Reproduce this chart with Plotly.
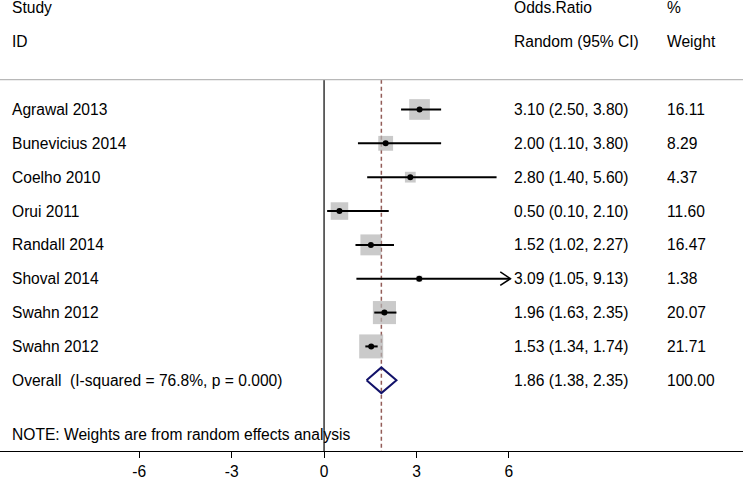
import math
import plotly.graph_objects as go

# Study data
studies = ["Agrawal 2013", "Bunevicius 2014", "Coelho 2010", "Orui 2011",
           "Randall 2014", "Shoval 2014", "Swahn 2012", "Swahn 2012"]
odds = [3.10, 2.00, 2.80, 0.50, 1.52, 3.09, 1.96, 1.53]
lower = [2.50, 1.10, 1.40, 0.10, 1.02, 1.05, 1.63, 1.34]
upper = [3.80, 3.80, 5.60, 2.10, 2.27, 9.13, 2.35, 1.74]
weights = [16.11, 8.29, 4.37, 11.60, 16.47, 1.38, 20.07, 21.71]

overall_label = "Overall  (I-squared = 76.8%, p = 0.000)"
overall_est, overall_lo, overall_hi, overall_w = 1.86, 1.38, 2.35, 100.00
note = "NOTE: Weights are from random effects analysis"

x_ticks = [-6, -3, 0, 3, 6]
x_tick_labels = ["-6", "-3", "0", "3", "6"]
clip = 6.05  # CI lines are truncated here and drawn with an arrow

FONT = "Liberation Sans, Arial, sans-serif"
FS = 15.6

rows = list(range(len(studies)))
overall_row = len(studies)
note_row = 9.6
top_line = -0.88
y_bottom = 10.09

fig = go.Figure()

# vertical no-effect line and dashed overall line
fig.add_trace(go.Scatter(x=[0, 0], y=[top_line, y_bottom], mode="lines",
                         line=dict(color="black", width=1.2), hoverinfo="skip"))
fig.add_trace(go.Scatter(x=[overall_est, overall_est], y=[top_line, y_bottom], mode="lines",
                         line=dict(color="#935c58", width=1.5, dash="4px,3px"), hoverinfo="skip"))

# weight boxes
fig.add_trace(go.Scatter(x=odds, y=rows, mode="markers",
                         marker=dict(symbol="square", color="#b4b4b4",
                                     size=[5.15 * math.sqrt(w) for w in weights],
                                     line=dict(width=0)),
                         hoverinfo="skip"))

# CI lines
cx, cy = [], []
for i, (lo, hi) in enumerate(zip(lower, upper)):
    cx += [lo, min(hi, clip), None]
    cy += [i, i, None]
fig.add_trace(go.Scatter(x=cx, y=cy, mode="lines", line=dict(color="black", width=2),
                         hoverinfo="skip"))

# arrow heads for truncated CIs
ax, ay = [], []
for i, hi in enumerate(upper):
    if hi > clip:
        ax += [clip - 0.33, clip, clip - 0.33, None]
        ay += [i - 0.2, i, i + 0.2, None]
fig.add_trace(go.Scatter(x=ax, y=ay, mode="lines", line=dict(color="black", width=1.5),
                         hoverinfo="skip"))

# point estimates
fig.add_trace(go.Scatter(x=odds, y=rows, mode="markers",
                         marker=dict(symbol="circle", color="black", size=6),
                         hoverinfo="skip"))

# overall diamond
fig.add_trace(go.Scatter(x=[overall_lo, overall_est, overall_hi, overall_est, overall_lo],
                         y=[overall_row, overall_row - 0.38, overall_row, overall_row + 0.38, overall_row],
                         mode="lines", line=dict(color="#12126a", width=2), hoverinfo="skip"))

# table text
def txt(x, y, s):
    fig.add_annotation(x=x, y=y, xref="paper", yref="y", text=s, showarrow=False,
                       xanchor="left", yanchor="middle", font=dict(family=FONT, size=FS, color="black"))

x_study, x_or, x_w = 10 / 743, 512 / 743, 665 / 743
txt(x_study, -3.0, "Study")
txt(x_study, -2.0, "ID")
txt(x_or, -3.0, "Odds.Ratio")
txt(x_or, -2.0, "Random (95% CI)")
txt(x_w, -3.0, "%")
txt(x_w, -2.0, "Weight")

for i, s in enumerate(studies):
    txt(x_study, i, s)
    txt(x_or, i, f"{odds[i]:.2f} ({lower[i]:.2f}, {upper[i]:.2f})")
    txt(x_w, i, f"{weights[i]:.2f}")
txt(x_study, overall_row, overall_label)
txt(x_or, overall_row, f"{overall_est:.2f} ({overall_lo:.2f}, {overall_hi:.2f})")
txt(x_w, overall_row, f"{overall_w:.2f}")
txt(x_study, note_row, note)

# top separator line
fig.add_shape(type="line", xref="paper", yref="y", x0=0, x1=1, y0=top_line, y1=top_line,
              line=dict(color="#b8b8b8", width=1.2))

fig.update_layout(
    width=743, height=480,
    margin=dict(l=0, r=0, t=0, b=27),
    paper_bgcolor="white", plot_bgcolor="white",
    showlegend=False,
    font=dict(family=FONT, size=FS, color="black"),
    xaxis=dict(range=[-10.52, 13.6], tickvals=x_ticks, ticktext=x_tick_labels,
               ticks="outside", ticklen=6,
               tickcolor="black", showline=True, linecolor="black", linewidth=1.2,
               showgrid=False, zeroline=False, tickfont=dict(family=FONT, size=FS)),
    yaxis=dict(range=[y_bottom, -3.235], visible=False, showgrid=False, zeroline=False),
)

fig.write_html("out.html", config={"displayModeBar": False},
               post_script="document.body.style.margin='0';")
